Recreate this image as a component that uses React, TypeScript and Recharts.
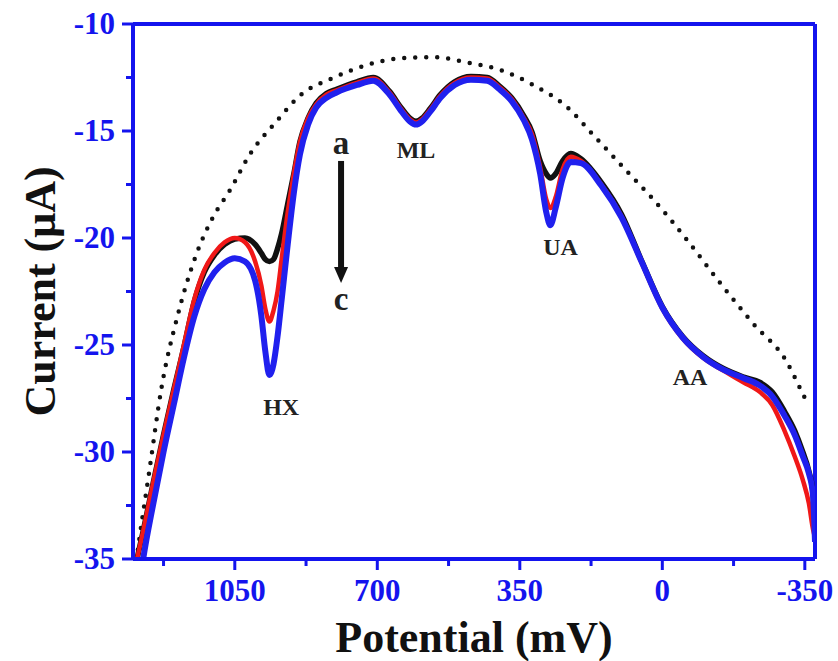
import { LineChart, Line, XAxis, YAxis, ReferenceLine, ReferenceDot } from 'recharts';

// potential grid (mV), shared by the three DPV curves
const potential = [
  1300, 1290, 1275, 1250, 1225, 1200, 1175, 1150, 1125, 1100, 1075, 1050, 1025, 1000, 985, 975,
  965, 955, 945, 935, 920, 905, 890, 870, 850, 825, 800, 750, 710, 670, 640, 620,
  605, 590, 570, 545, 510, 470, 430, 400, 370, 340, 320, 300, 285, 275, 262, 245,
  225, 200, 150, 100, 50, 0, -50, -100, -150, -200, -240, -270, -300, -325, -345, -360,
  -370, -375,
];

// curve a (black)
const currentA = [
  -36.0, -35.0, -33.7, -31.4, -29.2, -27.1, -25.1, -23.0, -21.6, -20.8, -20.3, -20.05, -20.0, -20.3, -20.7, -21.0,
  -21.1, -21.0, -20.5, -19.8, -18.4, -17.0, -15.5, -14.4, -13.7, -13.25, -13.05, -12.7, -12.5, -13.15, -13.95, -14.4,
  -14.55, -14.4, -13.95, -13.3, -12.7, -12.45, -12.5, -12.9, -13.45, -14.3, -15.05, -16.4, -17.0, -17.2, -17.0, -16.4,
  -16.05, -16.3, -17.4, -18.9, -21.1, -23.2, -24.6, -25.5, -26.1, -26.5, -26.75, -27.2, -28.1, -29.0, -30.0, -30.9,
  -31.9, -33.9,
];

// curve b (red)
const currentB = [
  -36.0, -35.0, -33.7, -31.4, -29.2, -27.1, -25.0, -22.9, -21.5, -20.7, -20.2, -20.0, -20.2, -21.1, -22.2, -23.3,
  -23.9, -23.4, -22.5, -21.0, -18.8, -17.0, -15.5, -14.4, -13.75, -13.3, -13.1, -12.75, -12.55, -13.2, -14.0, -14.45,
  -14.6, -14.45, -14.0, -13.35, -12.75, -12.5, -12.55, -12.95, -13.5, -14.4, -15.15, -16.7, -18.2, -18.6, -18.1, -16.8,
  -16.2, -16.4, -17.5, -19.0, -21.2, -23.3, -24.7, -25.6, -26.2, -26.75, -27.2, -27.8, -29.0, -30.2, -31.3, -32.4,
  -33.6, -34.0,
];

// curve c (blue)
const currentC = [
  -38.0, -37.0, -35.0, -32.4, -30.0, -27.8, -25.6, -23.7, -22.4, -21.6, -21.15, -20.95, -21.1, -22.0, -23.6, -25.3,
  -26.4, -25.9, -24.6, -22.9, -20.3, -17.9, -16.1, -14.7, -13.9, -13.45, -13.2, -12.85, -12.65, -13.3, -14.1, -14.55,
  -14.7, -14.55, -14.1, -13.45, -12.85, -12.6, -12.65, -13.05, -13.6, -14.5, -15.4, -17.0, -18.8, -19.4, -18.6, -17.2,
  -16.45, -16.5, -17.55, -19.05, -21.15, -23.25, -24.65, -25.55, -26.15, -26.55, -26.9, -27.4, -28.3, -29.2, -30.2, -31.0,
  -32.0, -34.2,
];

// dotted background curve
const blankPotential = [
  1295, 1291, 1260, 1230, 1190, 1147, 1100, 1066, 1010, 950, 887, 806, 723, 642, 561, 478,
  397, 317, 233, 169, 86, 22, -61, -142, -223, -306, -343, -356,
];
const blankCurrent = [
  -35.6, -35.0, -30.9, -27.0, -23.6, -20.9, -18.9, -17.9, -16.0, -14.6, -13.3, -12.5, -11.9, -11.6, -11.55, -11.8,
  -12.15, -12.85, -13.9, -15.2, -16.9, -18.2, -20.1, -22.1, -24.0, -25.8, -27.2, -27.7,
];

const xTicks = [1225, 1050, 875, 700, 525, 350, 175, 0, -175, -350];
const xMajor = [1050, 700, 350, 0, -350];
const yTicks = [-35, -32.5, -30, -27.5, -25, -22.5, -20, -17.5, -15, -12.5, -10];

const peakLabels = [
  { text: 'HX', p: 936, i: -27.9 },
  { text: 'ML', p: 605, i: -15.9 },
  { text: 'UA', p: 250, i: -20.4 },
  { text: 'AA', p: -68, i: -26.5 },
];
const arrowLabels = [
  { text: 'a', p: 789, i: -15.55 },
  { text: 'c', p: 789, i: -22.85 },
];

const data = potential.map((p, k) => ({ p, a: currentA[k], b: currentB[k], c: currentC[k] }));
const blankData = blankPotential.map((p, k) => ({ p, bg: blankCurrent[k] }));

const AXIS = '#1414ee';
const SERIF = '"Liberation Serif", "Times New Roman", serif';

const XTick = (props: any) => {
  const { x, y, payload } = props;
  const major = xMajor.includes(payload.value);
  return (
    <g>
      <line x1={x} y1={y} x2={x} y2={y + (major ? 11 : 7)} stroke={AXIS} strokeWidth={3} />
      {major && (
        <text x={x} y={y + 42} textAnchor="middle" fill={AXIS} fontSize={31} fontWeight="bold" fontFamily={SERIF}>
          {payload.value}
        </text>
      )}
    </g>
  );
};

const YTick = (props: any) => {
  const { x, y, payload } = props;
  const major = payload.value % 5 === 0;
  return (
    <g>
      <line x1={x} y1={y} x2={x - (major ? 11 : 7)} y2={y} stroke={AXIS} strokeWidth={3} />
      {major && (
        <text x={x - 18} y={y + 10} textAnchor="end" fill={AXIS} fontSize={31} fontWeight="bold" fontFamily={SERIF}>
          {payload.value}
        </text>
      )}
    </g>
  );
};

const Arrow = (props: any) => {
  const { x1, y1, x2, y2 } = props;
  return (
    <g>
      <line x1={x1} y1={y1} x2={x2} y2={y2 - 14} stroke="#111" strokeWidth={6} />
      <polygon points={`${x2 - 7},${y2 - 16} ${x2 + 7},${y2 - 16} ${x2},${y2}`} fill="#111" />
    </g>
  );
};

const textShape = (text: string, size: number) => (props: any) => (
  <text
    x={props.cx}
    y={props.cy}
    textAnchor="middle"
    dominantBaseline="central"
    fill="#222"
    fontSize={size}
    fontWeight="bold"
    fontFamily={SERIF}
  >
    {text}
  </text>
);

export default function App() {
  return (
    <div style={{ position: 'absolute', left: 0, top: 0, width: 838, height: 661, background: '#fff' }}>
      <LineChart width={838} height={661} data={data} margin={{ top: 24, right: 23, bottom: 0, left: 0 }}>
        <XAxis
          dataKey="p"
          type="number"
          domain={[-375, 1300]}
          reversed
          allowDataOverflow
          ticks={xTicks}
          interval={0}
          tickSize={0}
          tickMargin={0}
          tickLine={false}
          tick={<XTick />}
          height={102}
          axisLine={{ stroke: AXIS, strokeWidth: 4 }}
          label={{
            value: 'Potential (mV)',
            position: 'insideBottom',
            offset: 9,
            fill: '#111',
            fontSize: 44,
            fontWeight: 'bold',
            fontFamily: SERIF,
          }}
        />
        <YAxis
          type="number"
          domain={[-35, -10]}
          allowDataOverflow
          ticks={yTicks}
          interval={0}
          tickSize={0}
          tickMargin={0}
          tickLine={false}
          tick={<YTick />}
          width={133}
          axisLine={{ stroke: AXIS, strokeWidth: 4 }}
          label={{
            value: 'Current (μA)',
            angle: -90,
            position: 'insideLeft',
            offset: 39,
            fill: '#111',
            fontSize: 44,
            fontWeight: 'bold',
            fontFamily: SERIF,
            style: { textAnchor: 'middle' },
          }}
        />
        <ReferenceLine y={-10} stroke={AXIS} strokeWidth={4} />
        <ReferenceLine x={-375} stroke={AXIS} strokeWidth={4} />
        <Line
          data={blankData}
          dataKey="bg"
          type="monotone"
          stroke="#111"
          strokeWidth={4.5}
          strokeDasharray="0 11"
          strokeLinecap="round"
          dot={false}
          isAnimationActive={false}
        />
        <Line dataKey="a" type="monotone" stroke="#111" strokeWidth={5.5} dot={false} isAnimationActive={false} />
        <Line dataKey="b" type="monotone" stroke="#f01818" strokeWidth={4.5} dot={false} isAnimationActive={false} />
        <Line dataKey="c" type="monotone" stroke="#2020ee" strokeWidth={6} dot={false} isAnimationActive={false} />
        <ReferenceLine
          segment={[
            { x: 789, y: -16.4 },
            { x: 789, y: -22.1 },
          ]}
          shape={<Arrow />}
        />
        {peakLabels.map((l) => (
          <ReferenceDot key={l.text} x={l.p} y={l.i} r={0} shape={textShape(l.text, 24)} />
        ))}
        {arrowLabels.map((l) => (
          <ReferenceDot key={l.text} x={l.p} y={l.i} r={0} shape={textShape(l.text, 33)} />
        ))}
      </LineChart>
    </div>
  );
}
